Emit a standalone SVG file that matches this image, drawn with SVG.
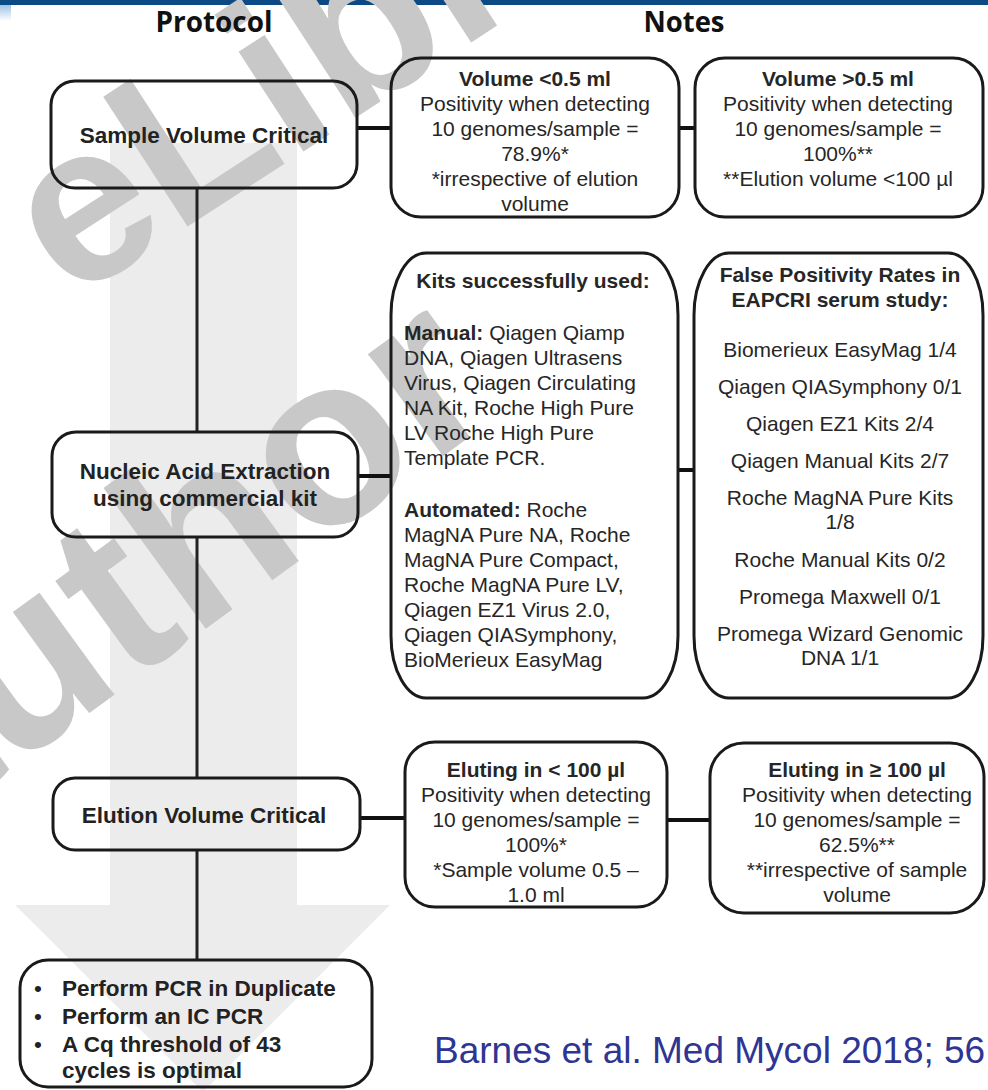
<svg xmlns="http://www.w3.org/2000/svg" width="988" height="1090" viewBox="0 0 988 1090">
<defs>
<linearGradient id="lb" x1="0" y1="0" x2="0" y2="1"><stop offset="0" stop-color="#9fc3e6"/><stop offset="1" stop-color="#ffffff"/></linearGradient>
<style>
.box{fill:none;stroke:#1a1a1a;stroke-width:3}
.conn{stroke:#111;stroke-width:4;fill:none}
.vconn{stroke:#222;stroke-width:3;fill:none}
.t{font-family:"Liberation Sans",Arial,sans-serif;font-size:21px;fill:#262626}
.c{text-anchor:middle}
.b{font-weight:bold}
.p{font-family:"Liberation Sans",Arial,sans-serif;font-size:22.5px;font-weight:bold;fill:#222}
.h{font-family:"Open Sans","Noto Sans",sans-serif;font-size:28px;font-weight:bold;fill:#111;text-anchor:middle}
.wm{font-family:"Liberation Sans",Arial,sans-serif;font-weight:bold;fill:#c8c8c8}
</style>
</defs>
<rect width="988" height="1090" fill="#ffffff"/>
<g id="header">
<rect x="0" y="0" width="988" height="5" fill="#0b4a85"/>
<rect x="0" y="5" width="11" height="16" fill="url(#lb)"/>
</g>
<g id="bg-arrow">
<polygon points="110,143 297,143 297,905 390,905 203,1092 15,905 110,905" fill="#ececec"/>
</g>
<g id="watermark">
<text class="wm" font-size="225" transform="translate(70,303) rotate(-33)">eLibrary</text>
<text class="wm" font-size="240" transform="translate(-99,850) rotate(-36)">author</text>
</g>
<text class="h" x="214" y="32" textLength="117" lengthAdjust="spacingAndGlyphs">Protocol</text>
<text class="h" x="684" y="32" textLength="81" lengthAdjust="spacingAndGlyphs">Notes</text>
<g id="connectors">
<line class="vconn" x1="197" y1="188" x2="197" y2="432"/>
<line class="vconn" x1="197" y1="537" x2="197" y2="778"/>
<line class="vconn" x1="197" y1="850" x2="197" y2="960"/>
<line class="conn" x1="357" y1="128" x2="391" y2="128"/>
<line class="conn" x1="679" y1="128" x2="695" y2="128"/>
<line class="conn" x1="358" y1="476" x2="391" y2="476"/>
<line class="conn" x1="678" y1="470" x2="694" y2="470"/>
<line class="conn" x1="360" y1="818" x2="405" y2="818"/>
<line class="conn" x1="667" y1="820" x2="710" y2="820"/>
</g>
<g id="sample-volume">
<rect class="box" x="51" y="81" width="306" height="107" rx="24"/>
<text class="p c" x="204" y="143">Sample Volume Critical</text>
</g>
<g id="nucleic-acid">
<rect class="box" x="52" y="432" width="306" height="105" rx="24"/>
<text class="p c" x="205" y="479">Nucleic Acid Extraction</text>
<text class="p c" x="205" y="506">using commercial kit</text>
</g>
<g id="elution-volume">
<rect class="box" x="53" y="778" width="307" height="72" rx="22"/>
<text class="p c" x="204" y="823">Elution Volume Critical</text>
</g>
<g id="pcr">
<rect class="box" x="20" y="960" width="352" height="127" rx="28"/>
<text class="p"><tspan x="34" y="996" font-weight="normal">•</tspan><tspan x="62" y="996">Perform PCR in Duplicate</tspan><tspan x="34" y="1024" font-weight="normal">•</tspan><tspan x="62" y="1024">Perform an IC PCR</tspan><tspan x="34" y="1052" font-weight="normal">•</tspan><tspan x="62" y="1052">A Cq threshold of 43</tspan><tspan x="62" y="1078">cycles is optimal</tspan></text>
</g>
<g id="volume-lt">
<rect class="box" x="391" y="58" width="288" height="159" rx="30"/>
<text class="t c"><tspan x="535" y="86" class="b">Volume &lt;0.5 ml</tspan><tspan x="535" y="111">Positivity when detecting</tspan><tspan x="535" y="136">10 genomes/sample =</tspan><tspan x="535" y="161">78.9%*</tspan><tspan x="535" y="186">*irrespective of elution</tspan><tspan x="535" y="211">volume</tspan></text>
</g>
<g id="volume-gt">
<rect class="box" x="695" y="58" width="288" height="159" rx="30"/>
<text class="t c"><tspan x="838" y="86" class="b">Volume &gt;0.5 ml</tspan><tspan x="838" y="111">Positivity when detecting</tspan><tspan x="838" y="136">10 genomes/sample =</tspan><tspan x="838" y="161">100%**</tspan><tspan x="838" y="186">**Elution volume &lt;100 µl</tspan></text>
</g>
<g id="kits">
<rect class="box" x="391" y="253" width="287" height="445" rx="35" ry="62"/>
<text class="t b c" x="533" y="288">Kits successfully used:</text>
<text class="t"><tspan x="404" y="340"><tspan class="b">Manual:</tspan> Qiagen Qiamp</tspan><tspan x="404" y="365">DNA, Qiagen Ultrasens</tspan><tspan x="404" y="390">Virus, Qiagen Circulating</tspan><tspan x="404" y="415">NA Kit, Roche High Pure</tspan><tspan x="404" y="440">LV Roche High Pure</tspan><tspan x="404" y="465">Template PCR.</tspan><tspan x="404" y="517"><tspan class="b">Automated:</tspan> Roche</tspan><tspan x="404" y="542">MagNA Pure NA, Roche</tspan><tspan x="404" y="567">MagNA Pure Compact,</tspan><tspan x="404" y="592">Roche MagNA Pure LV,</tspan><tspan x="404" y="617">Qiagen EZ1 Virus 2.0,</tspan><tspan x="404" y="642">Qiagen QIASymphony,</tspan><tspan x="404" y="667">BioMerieux EasyMag</tspan></text>
</g>
<g id="false-positivity">
<rect class="box" x="694" y="253" width="289" height="445" rx="35" ry="62"/>
<text class="t c"><tspan x="840" y="282" class="b">False Positivity Rates in</tspan><tspan x="840" y="307" class="b">EAPCRI serum study:</tspan><tspan x="840" y="357">Biomerieux EasyMag 1/4</tspan><tspan x="840" y="394">Qiagen QIASymphony 0/1</tspan><tspan x="840" y="431">Qiagen EZ1 Kits 2/4</tspan><tspan x="840" y="468">Qiagen Manual Kits 2/7</tspan><tspan x="840" y="505">Roche MagNA Pure Kits</tspan><tspan x="840" y="529">1/8</tspan><tspan x="840" y="567">Roche Manual Kits 0/2</tspan><tspan x="840" y="604">Promega Maxwell 0/1</tspan><tspan x="840" y="641">Promega Wizard Genomic</tspan><tspan x="840" y="665">DNA 1/1</tspan></text>
</g>
<g id="eluting-lt">
<rect class="box" x="405" y="742" width="262" height="165" rx="30"/>
<text class="t c"><tspan x="536" y="777" class="b">Eluting in &lt; 100 µl</tspan><tspan x="536" y="802">Positivity when detecting</tspan><tspan x="536" y="827">10 genomes/sample =</tspan><tspan x="536" y="852">100%*</tspan><tspan x="536" y="877">*Sample volume 0.5 –</tspan><tspan x="536" y="902">1.0 ml</tspan></text>
</g>
<g id="eluting-ge">
<rect class="box" x="710" y="743" width="274" height="170" rx="34"/>
<text class="t c"><tspan x="857" y="777" class="b">Eluting in ≥ 100 µl</tspan><tspan x="857" y="802">Positivity when detecting</tspan><tspan x="857" y="827">10 genomes/sample =</tspan><tspan x="857" y="852">62.5%**</tspan><tspan x="857" y="877">**irrespective of sample</tspan><tspan x="857" y="902">volume</tspan></text>
</g>
<text id="citation" x="434" y="1063" font-family="Liberation Sans, Arial, sans-serif" font-size="37" fill="#2e3592">Barnes et al. Med Mycol 2018; 56</text>
</svg>
